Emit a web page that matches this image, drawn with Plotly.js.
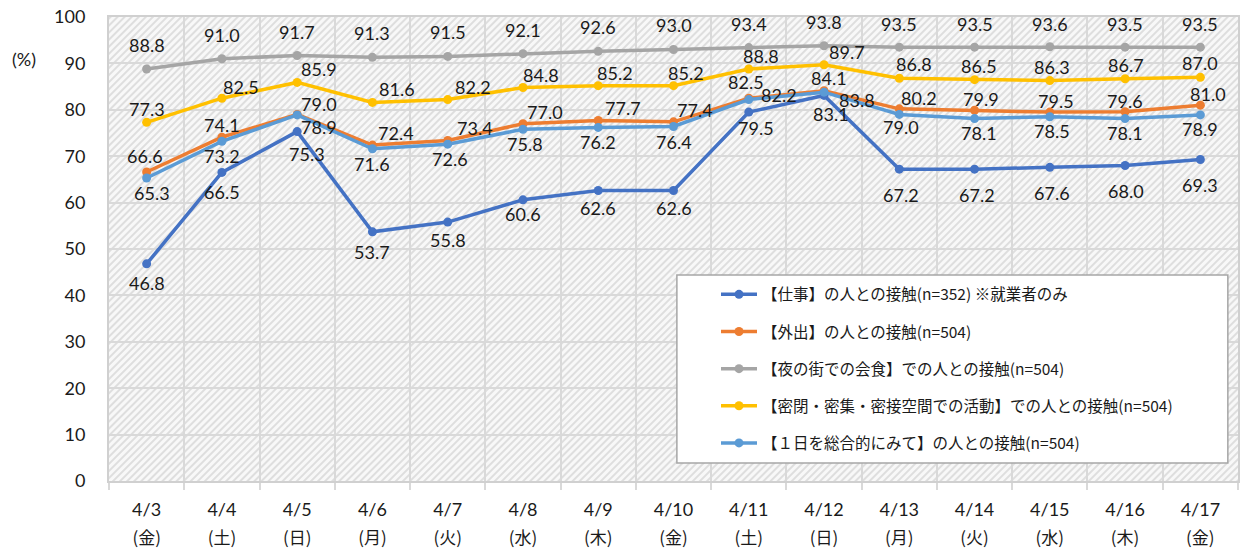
<!DOCTYPE html>
<html>
<head>
<meta charset="utf-8">
<script src="https://cdn.plot.ly/plotly-3.0.1.min.js"></script>
<style>html,body{margin:0;padding:0;background:#fff;}#chart{width:1241px;height:551px;}</style>
</head>
<body>
<div id="chart"></div>
<script>
// ---- data ----
const categories = ['4/3','4/4','4/5','4/6','4/7','4/8','4/9','4/10','4/11','4/12','4/13','4/14','4/15','4/16','4/17'];
const weekdays = ['(金)','(土)','(日)','(月)','(火)','(水)','(木)','(金)','(土)','(日)','(月)','(火)','(水)','(木)','(金)'];
const seriesNames = [
  '【仕事】の人との接触(n=352) ※就業者のみ',
  '【外出】の人との接触(n=504)',
  '【夜の街での会食】での人との接触(n=504)',
  '【密閉・密集・密接空間での活動】での人との接触(n=504)',
  '【１日を総合的にみて】の人との接触(n=504)'
];
const work    = [46.8,66.5,75.3,53.7,55.8,60.6,62.6,62.6,79.5,83.1,67.2,67.2,67.6,68.0,69.3];
const outing  = [66.6,74.1,79.0,72.4,73.4,77.0,77.7,77.4,82.5,84.1,80.2,79.9,79.5,79.6,81.0];
const night   = [88.8,91.0,91.7,91.3,91.5,92.1,92.6,93.0,93.4,93.8,93.5,93.5,93.6,93.5,93.5];
const closed  = [77.3,82.5,85.9,81.6,82.2,84.8,85.2,85.2,88.8,89.7,86.8,86.5,86.3,86.7,87.0];
const overall = [65.3,73.2,78.9,71.6,72.6,75.8,76.2,76.4,82.2,83.8,79.0,78.1,78.5,78.1,78.9];

// ---- styles ----
const colors = ['#4472C4','#ED7D31','#A5A5A5','#FFC000','#5B9BD5'];
const seriesData = [work, outing, night, closed, overall];
// label offsets in px (style only)
const labelDx = [
  [0,0,10,0,0,0,0,0,7,7,2,2,2,1,0],
  [-2,0,22,24,27,22,25,21,-3,5,20,6,6,0,8],
  [0,0,0,0,0,0,0,0,0,0,0,0,0,0,0],
  [0,19,22,25,25,18,17,12,12,23,15,4,2,1,0],
  [5,0,22,0,2,2,0,0,30,33,2,4,2,0,0]
];
const labelDy = [
  [-19,-20,-22,-20,-18,-14,-17,-17,-16,-19,-26,-26,-26,-26,-26],
  [16,12,10,12,12,12,12,12,16,13,11,11,11,11,11],
  [24,24,24,24,24,24,24,24,24,24,23,23,23,23,23],
  [13,11,13,13,13,13,13,13,13,13,14,14,14,14,14],
  [-15,-15,-12,-15,-15,-15,-15,-15,5,-8,-13,-14,-14,-14,-14]
];

const numFont = 'Lato, "Noto Sans CJK JP", sans-serif';
const traces = seriesData.map((vals, k) => ({
  type: 'scatter', mode: 'lines+markers',
  x: categories, y: vals, name: seriesNames[k],
  legendgroup: 'g' + k,
  line: {color: colors[k], width: 3.5},
  marker: {color: colors[k], size: 9},
  hoverinfo: 'skip'
}));
// helper trace for the weekday axis
traces.push({type:'scatter', mode:'markers', x: categories, y: categories.map(()=>null), xaxis:'x2', showlegend:false, hoverinfo:'skip', marker:{opacity:0}});

const annotations = [];
seriesData.forEach((vals, k) => {
  vals.forEach((v, i) => {
    annotations.push({
      xref:'x', yref:'y', x: categories[i], y: v, text: v.toFixed(1),
      showarrow:false, xshift: labelDx[k][i], yshift: labelDy[k][i],
      font:{family: numFont, size: 18, color:'#1a1a1a'}
    });
  });
});
annotations.push({xref:'paper', yref:'paper', x:-0.075, y:0.91, xanchor:'center', yanchor:'middle',
  text:'(%)', showarrow:false, font:{family:numFont, size:18, color:'#1a1a1a'}});

const W = 1129, H = 464;
const svg = `<svg xmlns='http://www.w3.org/2000/svg' width='${W}' height='${H}'><defs><pattern id='p' width='5' height='5' patternUnits='userSpaceOnUse' patternTransform='rotate(45)'><rect width='5' height='5' fill='#f8f8f8'/><line x1='1' y1='0' x2='1' y2='5' stroke='#dedede' stroke-width='2'/></pattern></defs><rect width='100%' height='100%' fill='url(#p)'/></svg>`;
const bgSrc = 'data:image/svg+xml;charset=utf-8,' + encodeURIComponent(svg);

const xRange = [-0.5, categories.length - 0.5];
const layout = {
  width: 1241, height: 551,
  margin: {l:109, r:3, t:17, b:70},
  paper_bgcolor:'#ffffff', plot_bgcolor:'#ffffff',
  showlegend: true,
  font:{family:numFont, color:'#1a1a1a'},
  xaxis: {
    type:'category', categoryorder:'array', categoryarray: categories,
    range: xRange, autorange:false,
    tickson:'boundaries', ticks:'outside', ticklen:7, tickwidth:2, tickcolor:'#d9d9d9',
    showgrid:true, gridcolor:'#d9d9d9', gridwidth:2,
    showline:true, linecolor:'#d0d0d0', linewidth:2, mirror:true,
    tickfont:{family:numFont, size:18, color:'#1a1a1a'},
    ticklabelstandoff: 11,
    zeroline:false, fixedrange:true
  },
  xaxis2: {
    type:'category', categoryorder:'array', categoryarray: categories,
    range: xRange, autorange:false,
    overlaying:'x', anchor:'y', side:'bottom',
    showgrid:false, showline:false, ticks:'', zeroline:false,
    tickvals: categories, ticktext: weekdays,
    tickfont:{family:'"Noto Sans CJK JP", Lato, sans-serif', size:17, color:'#1a1a1a'},
    ticklabelstandoff: 45, fixedrange:true
  },
  yaxis: {
    range:[0,100], dtick:10, tick0:0,
    showgrid:true, gridcolor:'#d9d9d9', gridwidth:2,
    showline:true, linecolor:'#d0d0d0', linewidth:2, mirror:true,
    ticks:'', ticklabelstandoff: 18,
    tickfont:{family:numFont, size:18, color:'#1a1a1a'},
    zeroline:false, fixedrange:true
  },
  images: [{source: bgSrc, xref:'paper', yref:'paper', x:0, y:1, sizex:1, sizey:1,
    xanchor:'left', yanchor:'top', sizing:'stretch', layer:'below'}],
  shapes: [{type:'rect', xref:'paper', yref:'paper', x0:0.503, x1:0.991, y0:0.0388, y1:0.444,
    fillcolor:'#ffffff', line:{color:'#a6a6a6', width:1.5}, layer:'above'}],
  legend: {
    x:(716-109)/1129, xanchor:'left', y:0.438, yanchor:'top',
    bgcolor:'rgba(0,0,0,0)', borderwidth:0,
    traceorder:'grouped', tracegroupgap: 14, itemwidth: 36,
    font:{family:'"Noto Sans CJK JP", sans-serif', size:15.5, color:'#1a1a1a'}
  },
  annotations: annotations
};

Plotly.newPlot('chart', traces, layout, {staticPlot:true, displayModeBar:false});
</script>
</body>
</html>
